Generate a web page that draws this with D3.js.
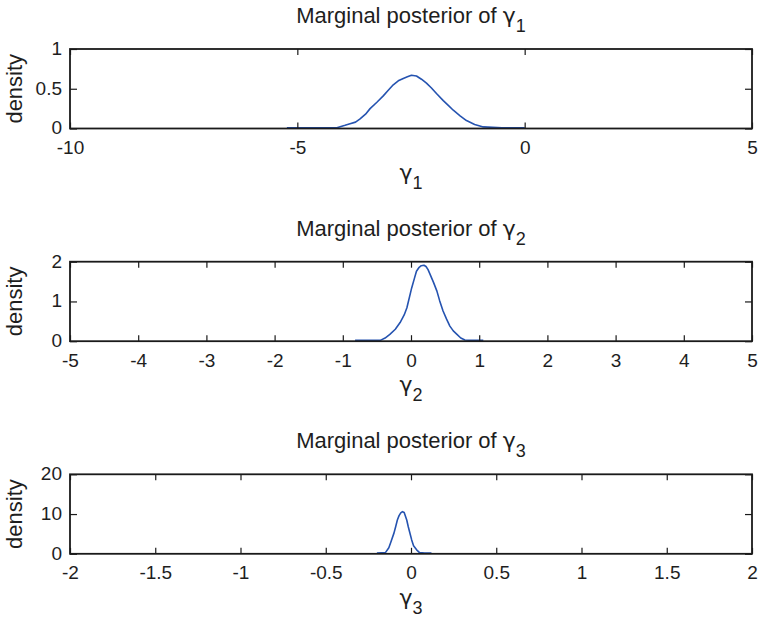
<!DOCTYPE html>
<html>
<head>
<meta charset="utf-8">
<script src="https://cdn.jsdelivr.net/npm/d3@7"></script>
<style>
  html, body { margin: 0; padding: 0; background: #ffffff; }
  svg { display: block; font-family: "Liberation Sans", Arial, sans-serif; }
</style>
</head>
<body>
<svg id="chart" width="760" height="621"></svg>
<script>
// Marginal posterior densities of the three gamma parameters
const gamma1X = [-5.23, -4.6, -4.13, -3.95, -3.84, -3.72, -3.62, -3.5, -3.4, -3.25, -3.11, -3.0, -2.89, -2.78, -2.67, -2.58, -2.49, -2.38, -2.27, -2.16, -2.05, -1.94, -1.79, -1.68, -1.57, -1.42, -1.28, -1.1, -0.91, -0.5, 0.0];
const gamma1Y = [0.01, 0.01, 0.01, 0.04, 0.06, 0.08, 0.12, 0.18, 0.25, 0.33, 0.41, 0.48, 0.55, 0.60, 0.63, 0.65, 0.67, 0.66, 0.62, 0.57, 0.51, 0.44, 0.35, 0.29, 0.23, 0.16, 0.10, 0.05, 0.02, 0.01, 0.01];

const gamma2X = [-0.82, -0.6, -0.45, -0.38, -0.31, -0.23, -0.16, -0.1, -0.06, 0.01, 0.05, 0.08, 0.12, 0.15, 0.19, 0.22, 0.25, 0.28, 0.33, 0.38, 0.42, 0.47, 0.52, 0.57, 0.62, 0.67, 0.73, 0.79, 0.9, 1.06];
const gamma2Y = [0.02, 0.02, 0.02, 0.08, 0.17, 0.30, 0.47, 0.66, 0.84, 1.34, 1.58, 1.76, 1.86, 1.90, 1.91, 1.88, 1.80, 1.68, 1.48, 1.26, 1.02, 0.76, 0.56, 0.38, 0.26, 0.18, 0.08, 0.03, 0.02, 0.02];

const gamma3X = [-0.2, -0.15, -0.13, -0.12, -0.1, -0.09, -0.08, -0.07, -0.06, -0.05, -0.04, -0.035, -0.025, -0.016, -0.005, 0.004, 0.015, 0.033, 0.05, 0.08, 0.12];
const gamma3Y = [0.2, 0.3, 1.5, 2.7, 5.2, 6.8, 8.5, 9.6, 10.3, 10.6, 10.4, 9.75, 8.5, 6.8, 5.0, 3.5, 2.0, 1.0, 0.3, 0.2, 0.2];

const xDomains = [[-10, 5], [-5, 5], [-2, 2]];
const yDomains = [[0, 1], [0, 2], [0, 20]];
const xTicks = [[-10, -5, 0, 5], [-5, -4, -3, -2, -1, 0, 1, 2, 3, 4, 5], [-2, -1.5, -1, -0.5, 0, 0.5, 1, 1.5, 2]];
const yTicks = [[0, 0.5, 1], [0, 1, 2], [0, 10, 20]];
const subscripts = ["1", "2", "3"];

const panels = [
  { xs: gamma1X, ys: gamma1Y },
  { xs: gamma2X, ys: gamma2Y },
  { xs: gamma3X, ys: gamma3Y }
];

const svg = d3.select("#chart");
const left = 70, right = 752, plotH = 79.5;
const tops = [49, 261.7, 474.3];
const textColor = "#1e1e1e";
const lineColor = "#2553b0";
const greekFont = "'DejaVu Sans', sans-serif";

panels.forEach((p, i) => {
  const top = tops[i], bottom = top + plotH;
  const x = d3.scaleLinear().domain(xDomains[i]).range([left, right]);
  const y = d3.scaleLinear().domain(yDomains[i]).range([bottom, top]);
  const fmt = d => String(d);

  const g = svg.append("g");

  // density curve
  const pts = p.xs.map((v, k) => [v, p.ys[k]]);
  g.append("path")
    .datum(pts)
    .attr("fill", "none")
    .attr("stroke", lineColor)
    .attr("stroke-width", 1.6)
    .attr("stroke-linejoin", "round")
    .attr("d", d3.line().x(d => x(d[0])).y(d => y(d[1])));

  // inward ticks on all four sides
  const bottomAxis = g.append("g")
    .attr("transform", `translate(0,${bottom})`)
    .call(d3.axisBottom(x).tickValues(xTicks[i]).tickFormat(fmt).tickSize(-6).tickPadding(12));
  const topAxis = g.append("g")
    .attr("transform", `translate(0,${top})`)
    .call(d3.axisTop(x).tickValues(xTicks[i]).tickFormat("").tickSize(-6));
  const leftAxis = g.append("g")
    .attr("transform", `translate(${left},0)`)
    .call(d3.axisLeft(y).tickValues(yTicks[i]).tickFormat(fmt).tickSize(-7).tickPadding(8));
  const rightAxis = g.append("g")
    .attr("transform", `translate(${right},0)`)
    .call(d3.axisRight(y).tickValues(yTicks[i]).tickFormat("").tickSize(-7));

  [bottomAxis, topAxis, leftAxis, rightAxis].forEach(a => {
    a.select(".domain").remove();
    a.selectAll(".tick line").attr("stroke", "#1a1a1a").attr("stroke-width", 1.2);
    a.selectAll(".tick text")
      .attr("fill", textColor)
      .style("font-size", "19px")
      .style("font-family", "'Liberation Sans', Arial, sans-serif");
  });
  leftAxis.selectAll(".tick text").attr("dy", "0.28em");

  // axes box
  g.append("rect")
    .attr("x", left).attr("y", top)
    .attr("width", right - left).attr("height", bottom - top)
    .attr("fill", "none")
    .attr("stroke", "#1a1a1a")
    .attr("stroke-width", 1.8);

  const cx = (left + right) / 2;

  // title
  const title = g.append("text")
    .attr("x", cx).attr("y", top - 26)
    .attr("text-anchor", "middle")
    .attr("fill", textColor)
    .style("font-size", "22px");
  title.append("tspan").text("Marginal posterior of ");
  title.append("tspan").style("font-family", greekFont).text("γ");
  title.append("tspan").attr("dy", 9).style("font-size", "18px").text(subscripts[i]);

  // x label
  const xl = g.append("text")
    .attr("x", cx).attr("y", bottom + 51)
    .attr("text-anchor", "middle")
    .attr("fill", textColor)
    .style("font-size", "22px");
  xl.append("tspan").style("font-family", greekFont).text("γ");
  xl.append("tspan").attr("dy", 9).style("font-size", "18px").text(subscripts[i]);

  // y label
  g.append("text")
    .attr("transform", `translate(22,${(top + bottom) / 2}) rotate(-90)`)
    .attr("text-anchor", "middle")
    .attr("fill", textColor)
    .style("font-size", "22px")
    .text("density");
});
</script>
</body>
</html>
